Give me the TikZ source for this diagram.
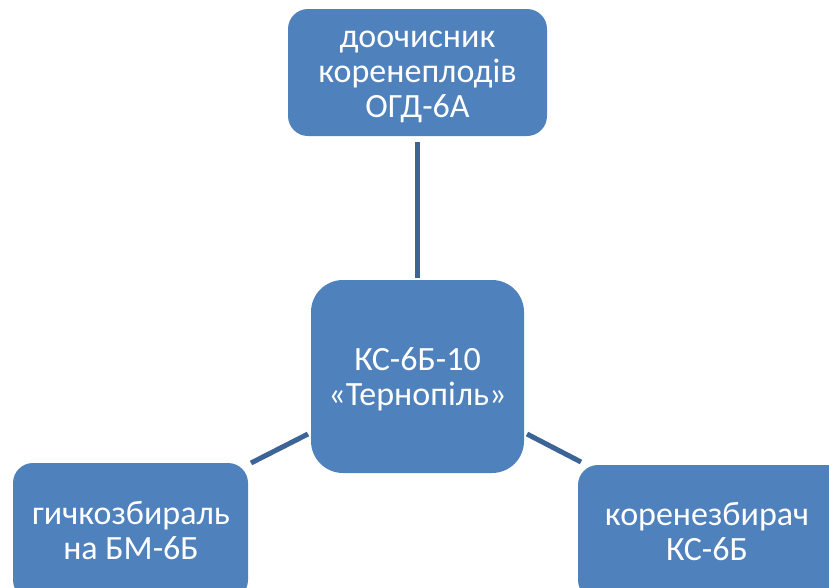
\documentclass[tikz,border=0pt]{standalone}
\usepackage{fontspec}
\setmainfont{Carlito}
\definecolor{boxblue}{HTML}{4F81BD}
\definecolor{linkblue}{HTML}{3C6496}
\begin{document}
\begin{tikzpicture}[x=1pt,y=-1pt,
  box/.style={fill=boxblue,draw=none,text=white,align=center,font=\fontsize{34}{35}\selectfont,inner sep=0pt},
  link/.style={draw=linkblue,line width=5pt}]
\useasboundingbox (0,0) rectangle (829,587);
\fill[boxblue,rounded corners=20pt] (288,9) rectangle (547,136);
\node[box] (top) at (417.5,77) {доочисник\\коренеплодів\\ОГД-6А};
\fill[boxblue,rounded corners=32pt] (311,280) rectangle (524,473);
\node[box] (center) at (417.5,379) {КС-6Б-10\\«Тернопіль»};
\fill[boxblue,rounded corners=20pt] (13,463) rectangle (248,600);
\node[box] (left) at (131,531) {гичкозбираль\\на БМ-6Б};
\fill[boxblue,rounded corners=20pt] (578,465) rectangle (860,600);
\node[box] (right) at (707,532) {коренезбирач\\КС-6Б};
\coordinate (t1) at (417,142);
\coordinate (t2) at (417,278);
\coordinate (l1) at (251,463);
\coordinate (l2) at (308,434);
\coordinate (r1) at (527,434);
\coordinate (r2) at (581,462);
\draw[link] (t1) -- (t2);
\draw[link] (l1) -- (l2);
\draw[link] (r1) -- (r2);
\end{tikzpicture}
\end{document}
